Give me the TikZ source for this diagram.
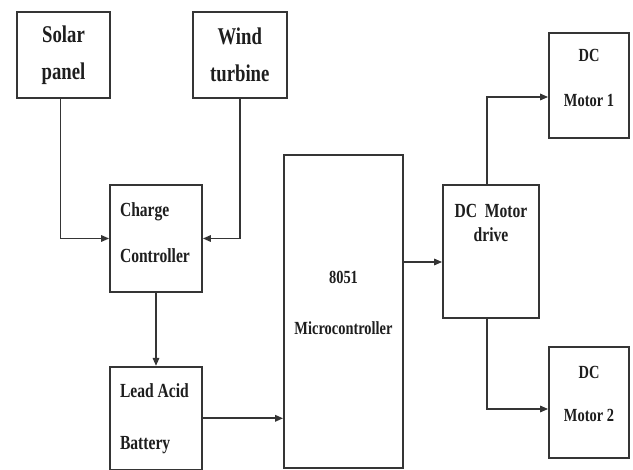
\documentclass[tikz,border=0pt]{standalone}
\usepackage{fontspec}
\setmainfont{Liberation Serif}[FakeStretch=0.78]
\usetikzlibrary{arrows.meta, positioning}
\definecolor{cLine}{HTML}{353535}
\definecolor{cText}{HTML}{1E1E1E}
\tikzset{
  blk/.style={
    rectangle, draw=cLine, line width=1.8pt, fill=white,
    minimum width=#1, inner sep=0pt, align=center, text=cText,
    font=\fontsize{20}{24}\selectfont\bfseries
  },
  blk/.default=92pt,
  src/.style={blk=93pt, minimum height=86pt,
    font=\fontsize{24}{29}\selectfont\bfseries},
  lblk/.style={blk=92pt, text width=72pt, align=flush left},
  mblk/.style={blk=80pt, font=\fontsize{18.5}{22}\selectfont\bfseries},
  arrow/.style={-{Triangle[length=8pt, width=6.5pt]}, line width=1.6pt, cLine},
}

\begin{document}
\begin{tikzpicture}[x=1pt, y=1pt]
  \useasboundingbox (0,0) rectangle (633,-470);

  % Sources
  \node[src] (solar) at (63.5,-55) {Solar\\[8pt]panel};
  \node[src, minimum width=94pt, right=81pt of solar] (wind) {Wind\\[8pt]turbine};

  % Charging and storage
  \node[lblk, minimum height=107pt] (charge) at (156,-238.5)
    {Charge\\[22pt]Controller\\[-12pt]\mbox{}};
  \node[lblk, minimum height=103pt, below=73pt of charge] (battery)
    {Lead Acid\\[28pt]Battery};

  % Controller
  \node[blk=119pt, minimum height=313pt,
        font=\fontsize{18.5}{22}\selectfont\bfseries] (mcu) at (343.5,-311.5)
    {8051\\[29pt]Microcontroller\\[-5pt]\mbox{}};

  % Motor side
  \node[blk=96pt, minimum height=133pt] (drive) at (491,-251.5)
    {DC\ \ Motor\\drive\\[34pt]\mbox{}};
  \node[mblk, minimum height=105pt] (motor1) at (589,-85.5)
    {DC\\[23pt]Motor 1\\[-6pt]\mbox{}};
  \node[mblk, minimum height=111pt] (motor2) at (589,-402.5)
    {DC\\[21pt]Motor 2\\[-4pt]\mbox{}};

  % Arrows
  \draw[arrow] ([xshift=-3pt]solar.south) |- (charge.west);
  \draw[arrow] (wind.south) |- (charge.east);
  \draw[arrow] (charge) -- (battery);
  \draw[arrow] (battery.east) -- (battery.east -| mcu.west);
  \draw[arrow] ([yshift=-10.5pt]drive.west -| mcu.east) -- ([yshift=-10.5pt]drive.west);
  \draw[arrow] ([xshift=-4pt]drive.north) |- ([yshift=-11.5pt]motor1.west);
  \draw[arrow] ([xshift=-4pt]drive.south) |- ([yshift=-6.5pt]motor2.west);

\end{tikzpicture}
\end{document}
